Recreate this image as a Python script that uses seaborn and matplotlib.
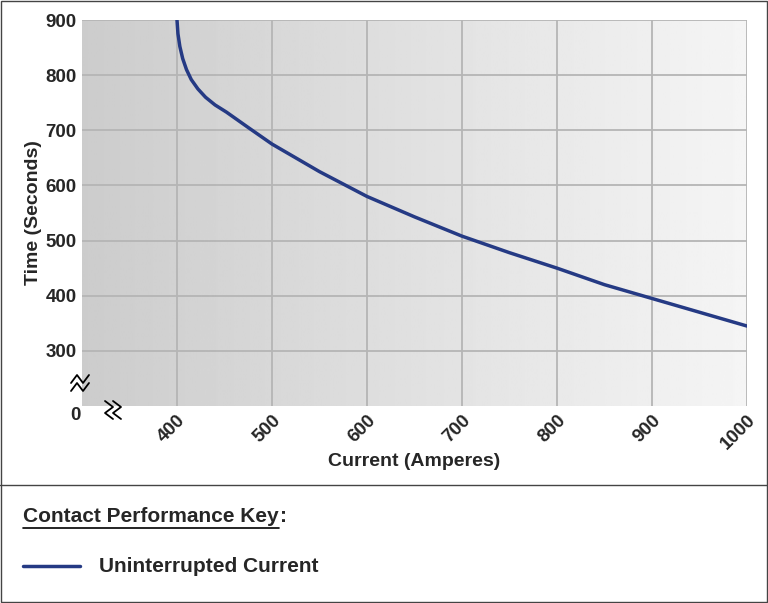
import numpy as np
import pandas as pd
import matplotlib
matplotlib.use("Agg")
import matplotlib.pyplot as plt
import seaborn as sns
from matplotlib.lines import Line2D
from matplotlib.patches import Rectangle

current = [400, 401, 403, 406, 410, 415, 422, 430, 440, 452, 475, 500, 550, 600, 650, 700, 750, 800, 850, 900, 950, 1000]
time_s = [900, 875, 852, 830, 810, 792, 775, 760, 746, 733, 705, 675, 625, 580, 543, 508, 478, 450, 420, 395, 370, 345]
x_ticks = [400, 500, 600, 700, 800, 900, 1000]
y_ticks = [300, 400, 500, 600, 700, 800, 900]

sns.set_style("white")
plt.rcParams['font.family'] = ['Liberation Sans', 'DejaVu Sans']

fig = plt.figure(figsize=(7.68, 6.03), dpi=100)
ax = fig.add_axes([82/768, 1-406/603, (747-82)/768, (406-20)/603])

grad = np.linspace(0.80, 0.96, 256).reshape(1, -1)
ax.imshow(grad, cmap="gray", vmin=0, vmax=1, aspect="auto",
          extent=[300, 1000, 200, 900], zorder=0)

df = pd.DataFrame({"Current": current, "Time": time_s})
sns.lineplot(data=df, x="Current", y="Time", ax=ax, color="#253a84", lw=2.5, zorder=3, sort=False)

ax.set_xlim(300, 1000)
ax.set_ylim(200, 900)
ax.set_xticks(x_ticks)
ax.set_yticks(y_ticks)
ax.set_xticklabels([str(v) for v in x_ticks], rotation=45, fontsize=13.5, fontweight="bold")
ax.set_yticklabels([str(v) for v in y_ticks], fontsize=13.5, fontweight="bold")
ax.grid(True, color="#b5b5b5", lw=1.3, zorder=1)
for s in ax.spines.values():
    s.set_visible(False)
ax.tick_params(length=0, pad=4)
ax.set_xlabel("Current (Amperes)", fontsize=14, fontweight="bold", labelpad=0)
ax.set_ylabel("Time (Seconds)", fontsize=14, fontweight="bold", labelpad=2)
for lab in ax.get_xticklabels():
    lab.set_ha("right"); lab.set_va("top")
    lab.set_rotation_mode("anchor")

fig.text(75/768, 1-416/603, "0", fontsize=13.5, fontweight="bold", ha="center", va="center")

for off in (-4, 4):
    xs = 80 + np.array([-9, -3, 3, 9])
    ys = 383 + np.array([1, -1, 1, -1])*4 + off
    fig.add_artist(Line2D(xs/768, 1-ys/603, color="black", lw=1.3))
for off in (-4, 4):
    ys = 410 + np.array([-9, -3, 3, 9])
    xs = 113 + np.array([-4, 4, -4, 4]) + off
    fig.add_artist(Line2D(xs/768, 1-ys/603, color="black", lw=1.3))

fig.add_artist(Rectangle((0.001, 0.001), 0.998, 0.998, fill=False, ec="#444444", lw=1, transform=fig.transFigure))
fig.add_artist(Line2D([0, 1], [1-485/603]*2, color="#444444", lw=1))

t = fig.text(23/768, 1-517/603, "Contact Performance Key", fontsize=15, fontweight="bold", va="center")
fig.canvas.draw()
bb = t.get_window_extent().transformed(fig.transFigure.inverted())
fig.add_artist(Line2D([bb.x0, bb.x1], [1-528/603]*2, color="black", lw=1.2))
fig.text(bb.x1 + 1/768, 1-517/603, ":", fontsize=15, fontweight="bold", va="center")
fig.add_artist(Line2D([23/768, 80/768], [1-566/603]*2, color="#253a84", lw=2.5))
fig.text(99/768, 1-566/603, "Uninterrupted Current", fontsize=15, fontweight="bold", va="center")

fig.savefig("out.png", dpi=100, facecolor="white")
